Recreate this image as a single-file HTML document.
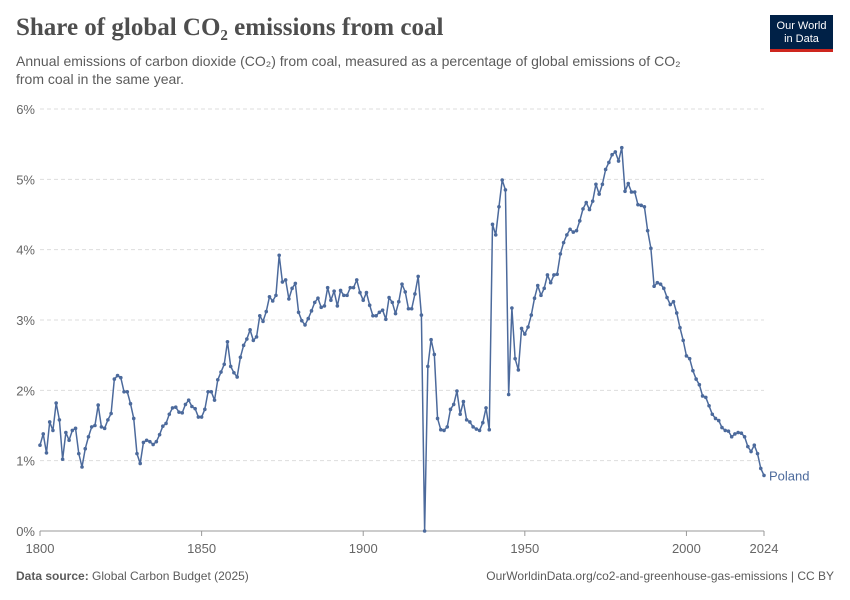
<!DOCTYPE html>
<html><head><meta charset="utf-8">
<style>
body{margin:0;background:#fff;width:850px;height:600px;overflow:hidden;font-family:"Liberation Sans",sans-serif;}
#title{position:absolute;left:16px;top:14px;font-family:"Liberation Serif",serif;font-size:25px;font-weight:bold;color:#4e4e4e;margin:0}
#sub{position:absolute;left:16px;top:52px;width:690px;font-size:14px;line-height:18px;color:#5b5b5b}
#logo{position:absolute;left:770px;top:15px;width:63px;height:37px;background:#002147;border-bottom:3px solid #ce261e;color:#fff;font-size:11px;line-height:13px;text-align:center;box-sizing:border-box;padding-top:5px}
#foot-l{position:absolute;left:16px;top:569px;font-size:12px;color:#5b5b5b}
#foot-r{position:absolute;right:16px;top:569px;font-size:12px;color:#5b5b5b}
svg{position:absolute;left:0;top:0}
</style></head><body>
<h1 id="title">Share of global CO₂ emissions from coal</h1>
<div id="sub">Annual emissions of carbon dioxide (CO₂) from coal, measured as a percentage of global emissions of CO₂<br>from coal in the same year.</div>
<div id="logo">Our World<br>in Data</div>
<div id="foot-l"><b>Data source:</b> Global Carbon Budget (2025)</div>
<div id="foot-r">OurWorldinData.org/co2-and-greenhouse-gas-emissions | CC BY</div>
<svg id="chart" width="850" height="600"></svg>
<script>
const startYear = 1800;
const yTicks = [0,1,2,3,4,5,6];
const xTicks = [1800,1850,1900,1950,2000,2024];
const seriesName = "Poland";
const values = [
1.22,1.38,1.11,1.55,1.43,1.82,1.58,1.02,1.40,1.29,
1.43,1.46,1.10,0.91,1.17,1.34,1.48,1.50,1.79,1.48,
1.46,1.58,1.67,2.16,2.21,2.18,1.98,1.98,1.81,1.60,
1.10,0.96,1.26,1.29,1.27,1.23,1.27,1.37,1.49,1.53,
1.66,1.75,1.76,1.69,1.68,1.80,1.86,1.77,1.74,1.62,
1.62,1.73,1.98,1.98,1.86,2.15,2.26,2.37,2.69,2.34,
2.25,2.19,2.47,2.64,2.73,2.86,2.71,2.76,3.06,2.98,
3.12,3.33,3.27,3.35,3.92,3.54,3.57,3.30,3.45,3.52,
3.11,2.99,2.93,3.02,3.13,3.25,3.31,3.18,3.20,3.46,
3.28,3.41,3.20,3.42,3.35,3.35,3.46,3.46,3.57,3.39,
3.28,3.39,3.21,3.06,3.06,3.11,3.14,3.01,3.32,3.25,
3.09,3.26,3.51,3.40,3.16,3.16,3.37,3.62,3.07,0.00,
2.34,2.72,2.51,1.60,1.44,1.43,1.48,1.73,1.80,1.99,
1.66,1.84,1.58,1.55,1.48,1.45,1.43,1.54,1.75,1.44,
4.36,4.21,4.61,4.99,4.85,1.94,3.17,2.45,2.29,2.88,
2.80,2.90,3.07,3.31,3.49,3.35,3.45,3.64,3.53,3.64,
3.65,3.94,4.10,4.21,4.29,4.25,4.27,4.41,4.58,4.67,
4.57,4.69,4.93,4.79,4.93,5.14,5.24,5.35,5.39,5.26,
5.45,4.83,4.94,4.82,4.82,4.64,4.63,4.61,4.27,4.02,
3.48,3.53,3.51,3.45,3.32,3.22,3.26,3.10,2.89,2.71,
2.49,2.45,2.28,2.16,2.08,1.92,1.90,1.78,1.66,1.60,
1.57,1.47,1.43,1.42,1.34,1.38,1.40,1.39,1.34,1.20,
1.13,1.22,1.10,0.89,0.79];
const NS="http://www.w3.org/2000/svg";
const svg=document.getElementById('chart');
const x0=40,x1=764,y0=531,y1=109;
const X=yr=>x0+(yr-1800)*(x1-x0)/(2024-1800);
const Y=v=>y0-(v/6)*(y0-y1);
function mk(t,a){const e=document.createElementNS(NS,t);for(const k in a)e.setAttribute(k,a[k]);svg.appendChild(e);return e;}
yTicks.forEach(t=>{
  if(t>0){const g=mk('line',{x1:x0,x2:x1,y1:Y(t),y2:Y(t),stroke:'#ddd','stroke-dasharray':'4,3'});
  
  }
  const l=mk('text',{x:35,y:Y(t)+5,'text-anchor':'end','font-size':13,fill:'#666','font-family':'Liberation Sans, sans-serif'});
  l.textContent=t+'%';
  
  
});
const ax=mk('line',{x1:x0,x2:x1,y1:y0,y2:y0,stroke:'#999'});


xTicks.forEach(t=>{
  const tk=mk('line',{x1:X(t),x2:X(t),y1:y0,y2:y0+5,stroke:'#999'});
  
  
  const l=mk('text',{x:X(t),y:y0+22,'text-anchor':'middle','font-size':13,fill:'#666','font-family':'Liberation Sans, sans-serif'});
  l.textContent=t;
  
  
});
const pts=values.map((v,i)=>X(startYear+i)+','+Y(v)).join(' ');
const pl=mk('polyline',{points:pts,fill:'none',stroke:'#4c6a9c','stroke-width':1.5,'stroke-linejoin':'round'});


values.forEach((v,i)=>{
  const c=mk('circle',{cx:X(startYear+i),cy:Y(v),r:1.8,fill:'#4c6a9c'});
  
  
});
const last=values[values.length-1];
const lb=mk('text',{x:X(2024)+5,y:Y(last)+5,'font-size':13,fill:'#4c6a9c','font-family':'Liberation Sans, sans-serif'});
lb.textContent=seriesName;


</script>
</body></html>
